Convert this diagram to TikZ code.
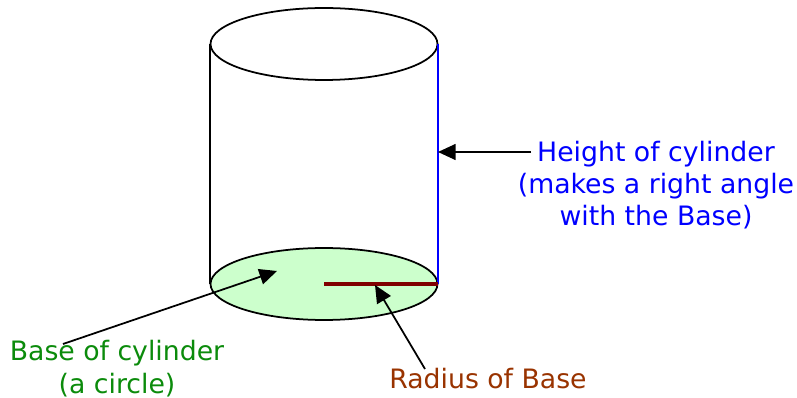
\documentclass[tikz,border=0pt]{standalone}
\usepackage{fontspec}
\setmainfont{DejaVu Sans}
\usetikzlibrary{shapes.geometric, arrows.meta, positioning}
\definecolor{basefill}{HTML}{CCFFCC}
\definecolor{basegreen}{HTML}{0B8B0B}
\definecolor{radbrown}{HTML}{993300}
\definecolor{radline}{HTML}{800000}
\tikzset{
  disc/.style={ellipse, draw, line width=1pt, minimum width=4.54cm, minimum height=1.44cm, inner sep=0pt},
  lbl/.style={align=center, font=\fontsize{15.2}{18.4}\selectfont, inner sep=0pt},
  arr/.style={-{Triangle[length=10pt, width=9pt]}, line width=1pt},
  side/.style={line width=1pt},
}
\begin{document}
\begin{tikzpicture}[x=0.02cm, y=-0.02cm]
  \useasboundingbox (0, 0) rectangle (797, 398);
  \node[disc, fill=white] (topdisc) at (324, 44) {};
  \node[disc, fill=basefill] (basedisc) at (324, 284) {};
  \draw[side] (topdisc.west) -- (basedisc.west);
  \draw[side, blue] (topdisc.east) -- (basedisc.east);
  \coordinate (basecentre) at (basedisc.center);
  \draw[radline, line width=2.3pt] (basecentre) -- (basedisc.east);
  % labels
  \node[lbl, text=blue] (heightlbl) at (656, 185) {Height of cylinder\\(makes a right angle\\with the Base)};
  \node[lbl, text=basegreen] (baselbl) at (117, 368.5) {Base of cylinder\\(a circle)};
  \node[lbl, text=radbrown] (radiuslbl) at (488, 379) {Radius of Base};
  % arrows
  \coordinate (heightpt) at (438, 152);
  \coordinate (heighttail) at (531, 152);
  \coordinate (basept) at (277, 271);
  \coordinate (basetail) at (63, 344);
  \coordinate (radiuspt) at (375, 285);
  \coordinate (radiustail) at (425, 369);
  \draw[arr] (heighttail) -- (heightpt);
  \draw[arr] (basetail) -- (basept);
  \draw[arr] (radiustail) -- (radiuspt);
\end{tikzpicture}
\end{document}
